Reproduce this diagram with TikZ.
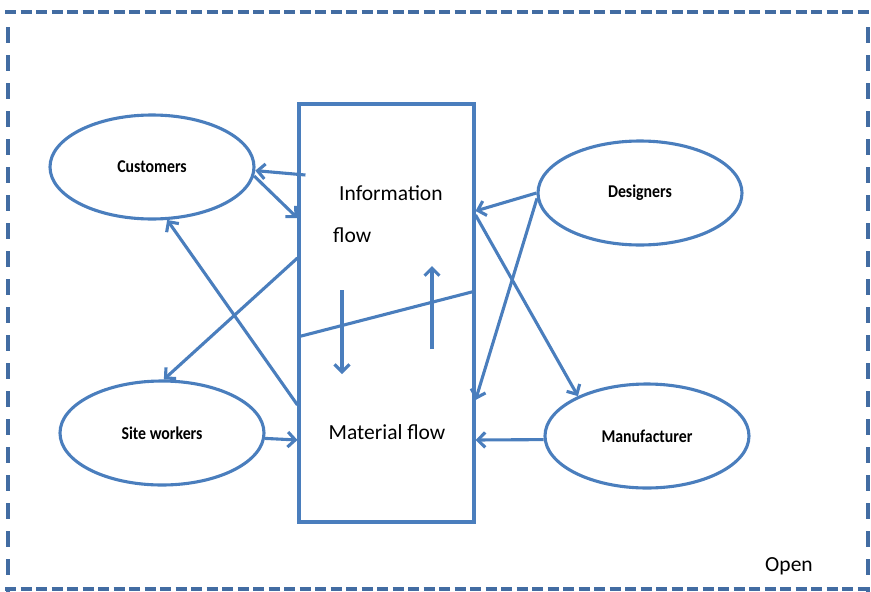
\documentclass[tikz,border=0pt]{standalone}
\usepackage{fontspec}
\setmainfont{Carlito}
\usetikzlibrary{arrows.meta,shapes.geometric}
\definecolor{flowblue}{RGB}{74,126,189}
\definecolor{frameblue}{RGB}{66,108,162}
\begin{document}
\begin{tikzpicture}[x=1pt,y=-1pt,
  flow/.style={draw=flowblue,line width=3.1pt},
  party/.style={ellipse,flow,minimum width=204pt,minimum height=104pt,inner sep=0pt,
    font=\bfseries\fontsize{18}{18}\selectfont},
  arr/.style={flow,-{Straight Barb[length=7.5pt,width=15pt]}},
  caption/.style={font=\fontsize{21.5}{21.5}\selectfont,inner sep=0pt},
  frame/.style={draw=frameblue,line width=3.2pt}]
\useasboundingbox (0,0) rectangle (871,592);

% dashed outer frame
\draw[frame,dash pattern=on 11pt off 4.5pt] (5,12) -- (871,12);
\draw[frame,dash pattern=on 11pt off 4.5pt] (5,589) -- (871,589);
\draw[frame,dash pattern=on 16pt off 12pt] (8,27) -- (8,592);
\draw[frame,dash pattern=on 16pt off 12pt] (868,27) -- (868,592);

% central process box
\node[flow,rectangle,minimum width=175pt,minimum height=418pt,inner sep=0pt] (box) at (386.5,313) {};

% parties
\node[party] (cust) at (152,167) {\scalebox{0.88}[1]{Customers}};
\node[party] (des)  at (640,193) {\scalebox{0.88}[1]{Designers}};
\node[party] (site) at (162,433) {\scalebox{0.88}[1]{Site workers}};
\node[party] (manu) at (647,436) {\scalebox{0.88}[1]{Manufacturer}};

% box captions
\node[caption,anchor=base west] (info) at (339,200) {Information};
\node[caption,anchor=base west] (infoflow) at (333,242) {flow};
\node[caption,anchor=base] (mat) at (387,439) {Material flow};
\node[caption,anchor=base] (open) at (789,571) {Open};

% split between information and material flow
\draw[flow] (box.west |- 0,337) -- (box.east |- 0,291);
\coordinate (dTop) at (342,290);
\coordinate (dBot) at (342,374);
\coordinate (uBot) at (432,349);
\coordinate (uTop) at (432,266);
\draw[arr] (dTop) -- (dBot);
\draw[arr] (uBot) -- (uTop);

% left side connectors
\draw[arr] ([xshift=8pt]box.west |- 0,175) -- (cust.-2);
\draw[arr] (cust.-5) -- (box.west |- 0,218);
\draw[arr] (box.west |- 0,258) -- (site.88);
\draw[arr] (box.west |- 0,405) -- (cust.-74);
\draw[arr] (site.-3) -- (box.west |- 0,440);

% right side connectors
\draw[arr] (des.180) -- (box.east |- 0,211);
\draw[arr] (des.183) -- (box.east |- 0,400);
\draw[arr] (box.east |- 0,215) -- (manu.150);
\draw[arr] (manu.182) -- (box.east |- 0,440);
\end{tikzpicture}
\end{document}
